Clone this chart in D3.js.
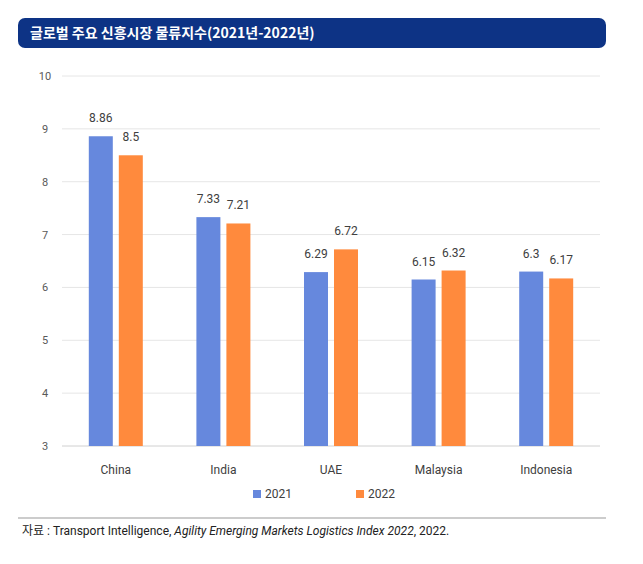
<!DOCTYPE html>
<html><head><meta charset="utf-8">
<script src="https://cdn.jsdelivr.net/npm/d3@7"></script>
<style>body{margin:0;background:#fff;font-family:Roboto,"Noto Sans CJK KR",sans-serif}</style>
</head><body><svg id="c" width="643" height="564"></svg>
<script>
const categories=["China","India","UAE","Malaysia","Indonesia"];
const seriesNames=["2021","2022"];
const values2021=[8.86,7.33,6.29,6.15,6.3];
const values2022=[8.5,7.21,6.72,6.32,6.17];
const yTicks=[3,4,5,6,7,8,9,10];
const colors=["#6688dd","#ff8a3d"];
const svg=d3.select("#c");
svg.append("rect").attr("x",18).attr("y",18).attr("width",588).attr("height",30).attr("rx",7).attr("fill","#0d3385");
svg.append("text").attr("x",30).attr("y",38).attr("fill","#fff").attr("font-size",14).attr("font-weight","bold")
 .attr("font-family","'Noto Sans CJK KR',sans-serif").text("글로벌 주요 신흥시장 물류지수(2021년-2022년)");
const x=d3.scaleBand().domain(categories).range([62,600]);
const y=d3.scaleLinear().domain([3,10]).range([446,76]);
const g=svg.append("g");
g.selectAll("line.g").data(yTicks).join("line").attr("x1",62).attr("x2",600)
 .attr("y1",d=>y(d)).attr("y2",d=>y(d)).attr("stroke",d=>d===3?"#d0d0d0":"#e6e6e6");
g.selectAll("text.y").data(yTicks).join("text").attr("x",45).attr("y",d=>y(d)+4).attr("text-anchor","middle")
 .attr("font-size",11).attr("fill","#595959").text(d=>d);
const data=[values2021,values2022];
const bw=24,gap=6;
data.forEach((vals,si)=>{
  categories.forEach((c,i)=>{
    const cx=x(c)+x.bandwidth()/2;
    const bx=si===0?cx-gap/2-bw:cx+gap/2;
    g.append("rect").attr("x",bx).attr("y",y(vals[i])).attr("width",bw).attr("height",y(3)-y(vals[i])).attr("fill",colors[si]);
    g.append("text").attr("x",bx+bw/2).attr("y",y(vals[i])-14).attr("text-anchor","middle").attr("font-size",12)
     .attr("fill","#404040").text(vals[i]);
  });
});
g.selectAll("text.x").data(categories).join("text").attr("x",d=>x(d)+x.bandwidth()/2).attr("y",474)
 .attr("text-anchor","middle").attr("font-size",12).attr("fill","#404040").text(d=>d);
const lx=[253,356];
seriesNames.forEach((s,i)=>{
  svg.append("rect").attr("x",lx[i]).attr("y",490).attr("width",8).attr("height",8).attr("fill",colors[i]);
  svg.append("text").attr("x",lx[i]+12).attr("y",498).attr("font-size",12).attr("fill","#404040").text(s);
});
svg.append("line").attr("x1",18).attr("x2",606).attr("y1",518).attr("y2",518).attr("stroke","#999");
const t=svg.append("text").attr("x",22).attr("y",535).attr("font-size",12).attr("fill","#222");
t.append("tspan").text("자료 : Transport Intelligence, ");
t.append("tspan").attr("font-style","italic").text("Agility Emerging Markets Logistics Index 2022");
t.append("tspan").text(", 2022.");
</script></body></html>
